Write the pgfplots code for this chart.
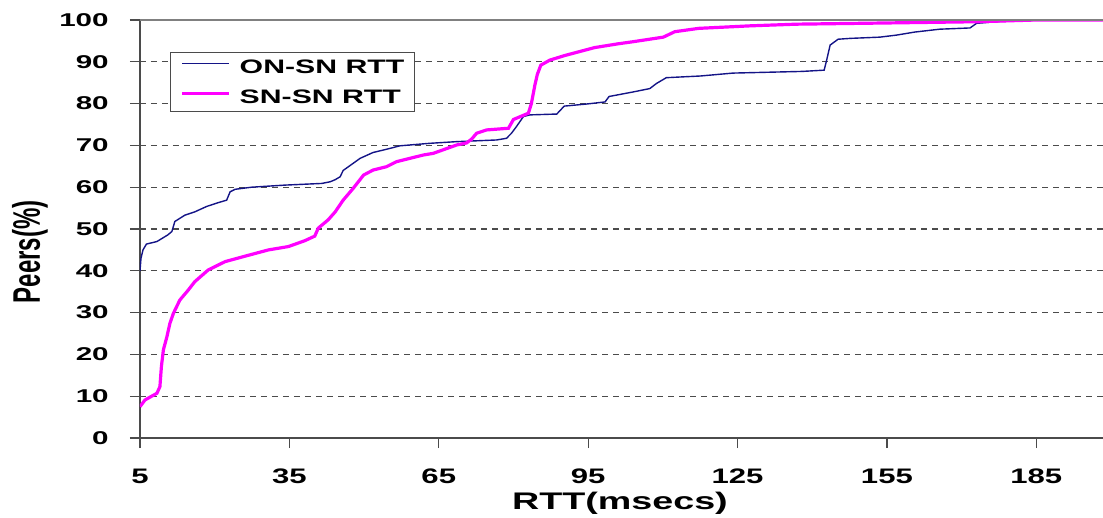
\documentclass[border=0pt]{standalone}
\usepackage{fontspec}
\setmainfont{Liberation Sans}
\usepackage{graphicx}
\usepackage{pgfplots}
\pgfplotsset{compat=1.18}
\definecolor{navyline}{RGB}{20,20,135}
\definecolor{magline}{RGB}{255,0,255}
\definecolor{axgray}{RGB}{75,75,75}
\begin{document}
\begin{tikzpicture}
\begin{axis}[
  at={(0pt,0pt)}, anchor=south west,
  width=963pt, height=418pt, scale only axis,
  xmin=5, xmax=198.4, ymin=0, ymax=100,
  axis x line*=bottom, axis y line*=left,
  axis line style={axgray, line width=1.6pt},
  xtick={5,35,...,185}, ytick={0,10,...,100},
  tick align=outside,
  major tick length=10pt,
  tick style={axgray, line width=1.2pt},
  ymajorgrids,
  grid style={axgray, dash pattern=on 6pt off 5pt, line width=1.3pt},
  /pgf/number format/assume math mode=true,
  xticklabel style={font=\fontsize{21}{24}\selectfont\bfseries, inner sep=0pt, yshift=-21pt, xscale=1.48},
  yticklabel style={font=\fontsize{18.5}{22}\selectfont\bfseries, inner sep=0pt, xshift=-21pt, xscale=1.6},
  xlabel={\scalebox{1.57}[1]{RTT(msecs)}},
  ylabel={\scalebox{1}[1.6]{Peers(\%)}},
  xlabel style={font=\fontsize{24}{28}\selectfont\bfseries, at={(axis description cs:0.4984,-0.1555)}, anchor=center, inner sep=0pt},
  ylabel style={font=\fontsize{24}{28}\selectfont\bfseries, at={(axis description cs:-0.1142,0.445)}, anchor=center, inner sep=0pt},
  legend style={at={(axis description cs:0.0312,0.923)}, anchor=north west,
    draw=axgray, line width=1pt, fill=white,
    font=\fontsize{19.5}{22}\selectfont\bfseries,
    inner xsep=10pt, inner ysep=7pt, row sep=15pt, column sep=9pt,
    nodes={inner sep=0pt}},
  legend cell align=left,
  legend image code/.code={\draw[#1, line cap=butt] (0pt,0.35em) -- (47pt,0.35em);},
]
\addplot[navyline, line width=1.4pt] coordinates {
(5,40) (5.2,43) (5.6,45) (6.3,46.4) (8.4,47) (10.6,48.6) (11.4,49.4) (12,51.8)
(14,53.3) (16,54.1) (18.4,55.4) (20.7,56.3) (22.4,56.9) (23.1,58.9) (24.1,59.5)
(27.4,60) (34.1,60.5) (41.5,60.9) (43.2,61.3) (44.2,61.8) (45.2,62.5) (45.8,64)
(47.8,65.7) (49.2,66.9) (51.8,68.3) (53.9,68.9) (55.9,69.5) (57.2,69.9) (63.2,70.5)
(68.6,70.9) (76.6,71.3) (78.6,71.7) (79.6,72.9) (80.6,74.5) (82,76.9) (83.3,77.3)
(88.7,77.5) (90.2,79.4) (94.7,79.9) (98.4,80.4) (99.2,81.7) (104.1,82.8) (107.4,83.6)
(108.7,84.8) (110.7,86.2) (117.5,86.6) (124.1,87.3) (138,87.7) (142.4,88) (142.9,90.4)
(143.6,94) (145.2,95.4) (147.6,95.6) (153.6,95.9) (157,96.4) (160.5,97.1) (165.6,97.8)
(171.7,98.1) (173,99.2) (177,99.6) (186,100)
};
\addlegendentry{\scalebox{1.55}[1]{ON-SN RTT}}
\addplot[magline, line width=3.2pt] coordinates {
(5,7.5) (6,9.1) (8.4,10.7) (9,12.3) (9.3,17.1) (9.7,21.1) (10.4,24.2) (11,27.4)
(11.7,29.8) (13,33) (14.7,35.4) (16,37.4) (18.7,40.2) (22.1,42.2) (26.1,43.5)
(30.8,45) (34.8,45.8) (38.1,47.2) (40.1,48.3) (40.8,50.2) (42.8,52.2) (44.2,54.1)
(45.8,56.9) (47.8,59.7) (49.9,62.9) (51.8,64.1) (54.5,64.9) (56.5,66.1) (61.9,67.7)
(63.9,68.1) (68.6,70.1) (70.6,70.6) (71.6,71.5) (72.6,72.9) (74.6,73.7) (79,74.1)
(80,76.2) (83,77.7) (83.6,80) (84.3,84.4) (84.8,87) (85.5,89.2) (87.3,90.4)
(90.3,91.5) (96.3,93.4) (101,94.3) (104,94.8) (110.1,95.9) (112.4,97.2) (117.2,98)
(124.1,98.4) (127.5,98.6) (136.8,99) (155.6,99.3) (173.7,99.6) (185,100) (198.4,100)
};
\addlegendentry{\scalebox{1.55}[1]{SN-SN RTT}}
\draw[gray, line width=1.3pt] (rel axis cs:0,1) -- (rel axis cs:1,1);
\end{axis}
\pgfresetboundingbox
\path[use as bounding box] (-140pt,-79pt) rectangle (963pt,438pt);
\end{tikzpicture}
\end{document}
